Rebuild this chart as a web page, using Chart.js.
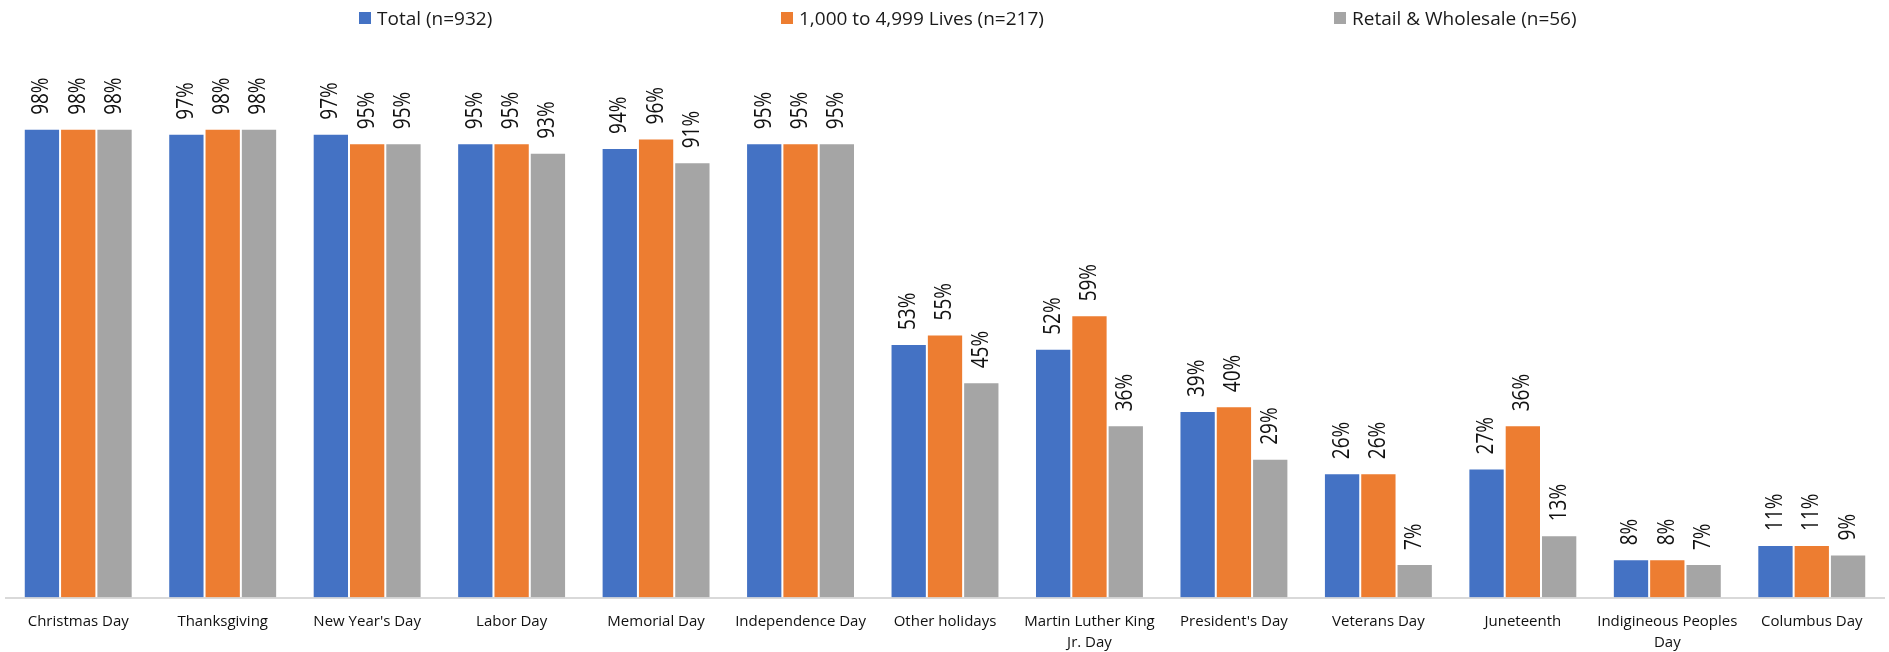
<!DOCTYPE html>
<html lang="en">
<head>
  <meta charset="UTF-8" />
  <title>Holidays observed</title>
  <script src="https://cdn.jsdelivr.net/npm/chart.js"></script>
  <style>
    html, body { margin: 0; padding: 0; background: #fff; }
    .wrap { position: relative; width: 1889px; height: 652px; }
    .legenda span.item { position: absolute; top: 6px; display: flex; align-items: center; white-space: nowrap;
      font-family: "Open Sans", sans-serif; font-size: 19px; line-height: 24px; color: #1a1a1a; }
    .legenda i { display: inline-block; width: 12px; height: 12px; margin-right: 6px; }
  </style>
</head>
<body>
  <div class="wrap">
    <canvas id="grafico" width="1889" height="652"></canvas>
    <div class="legenda" id="legenda"></div>
  </div>

  <script>
    // categorias (rotulos do eixo x)
    var feriados = [
      "Christmas Day", "Thanksgiving", "New Year's Day", "Labor Day", "Memorial Day",
      "Independence Day", "Other holidays", ["Martin Luther King", "Jr. Day"], "President's Day",
      "Veterans Day", "Juneteenth", ["Indigineous Peoples", "Day"], "Columbus Day"
    ];

    // percentuais por grupo
    var total = [98, 97, 97, 95, 94, 95, 53, 52, 39, 26, 27, 8, 11];
    var vidas1000a4999 = [98, 98, 95, 95, 96, 95, 55, 59, 40, 26, 36, 8, 11];
    var varejo = [98, 98, 95, 93, 91, 95, 45, 36, 29, 7, 13, 7, 9];

    var nomesSeries = ["Total (n=932)", "1,000 to 4,999 Lives (n=217)", "Retail & Wholesale (n=56)"];
    var cores = ["#4472C4", "#ED7D31", "#A5A5A5"];
    var posLegenda = [359, 781, 1334];

    // legenda em html
    var legendaDiv = document.getElementById("legenda");
    for (var k = 0; k < nomesSeries.length; k++) {
      legendaDiv.innerHTML += `<span class="item" style="left:${posLegenda[k]}px"><i style="background:${cores[k]}"></i>${nomesSeries[k]}</span>`;
    }

    // rotulos de valor girados acima das barras
    const rotulosBarras = {
      id: 'rotulosBarras',
      afterDatasetsDraw(chart) {
        const ctx = chart.ctx;
        ctx.save();
        ctx.font = '19px "Open Sans", sans-serif';
        ctx.fillStyle = '#111';
        ctx.textAlign = 'left';
        ctx.textBaseline = 'middle';
        chart.data.datasets.forEach((ds, i) => {
          chart.getDatasetMeta(i).data.forEach((bar, j) => {
            ctx.save();
            ctx.translate(bar.x, bar.y - 14);
            ctx.rotate(-Math.PI / 2);
            ctx.scale(1, 1.2);
            ctx.fillText(ds.data[j] + '%', 0, 0);
            ctx.restore();
          });
        });
        ctx.restore();
      }
    };

    let dados = {
      labels: feriados,
      datasets: [
        { label: nomesSeries[0], data: total, backgroundColor: cores[0] },
        { label: nomesSeries[1], data: vidas1000a4999, backgroundColor: cores[1] },
        { label: nomesSeries[2], data: varejo, backgroundColor: cores[2] }
      ]
    };

    dados.datasets.forEach(ds => {
      ds.borderColor = 'rgba(255,255,255,0.5)';
      ds.borderWidth = 1;
      ds.barPercentage = 1;
      ds.categoryPercentage = 0.754;
    });

    const config = {
      type: 'bar',
      data: dados,
      options: {
        responsive: false,
        animation: false,
        layout: { padding: { left: 6, right: 5, top: 38, bottom: -7 } },
        plugins: {
          legend: { display: false },
          tooltip: { enabled: false }
        },
        scales: {
          y: { display: false, min: 0, max: 117 },
          x: {
            grid: { display: false },
            border: { color: '#d9d9d9', width: 2 },
            ticks: {
              color: '#111',
              padding: 6.5,
              maxRotation: 0,
              autoSkip: false,
              font: { family: '"Open Sans", sans-serif', size: 15, lineHeight: 1.35 }
            }
          }
        }
      },
      plugins: [rotulosBarras]
    };

    new Chart(document.getElementById('grafico'), config);
  </script>
</body>
</html>
